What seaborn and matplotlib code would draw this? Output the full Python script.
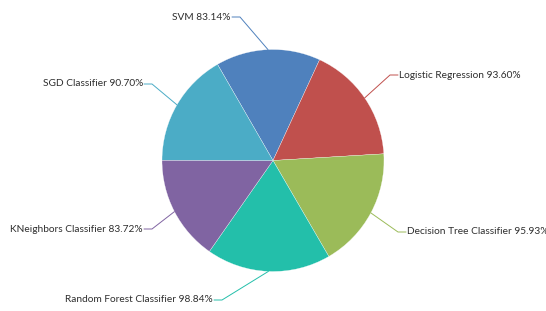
import numpy as np
import matplotlib
matplotlib.use("Agg")
import matplotlib.pyplot as plt
import seaborn as sns

# data
models = ['SVM', 'Logistic Regression', 'Decision Tree Classifier',
          'Random Forest Classifier', 'KNeighbors Classifier', 'SGD Classifier']
accuracy = [83.14, 93.60, 95.93, 98.84, 83.72, 90.70]

colors = ['#4F81BD', '#C0504D', '#9BBB59', '#23BFAA', '#8064A2', '#4BACC6']

sns.set_theme(style='white')
plt.rcParams['font.family'] = ['Lato', 'DejaVu Sans']

W, H = 546, 311
fig = plt.figure(figsize=(W / 100, H / 100), dpi=100)
ax = fig.add_axes([0, 0, 1, 1])

cx, cy, r = 273, 150.5, 111
wedges, _ = ax.pie(accuracy, colors=colors, startangle=120, counterclock=False,
                   center=(cx, cy), radius=r,
                   wedgeprops=dict(edgecolor='white', linewidth=0.2))

# label layout: bend point of the leader line and which side the text sits on
bends = [(240, 294), (390, 236), (398, 79), (222, 11), (152, 82), (152, 227)]
sides = ['left', 'right', 'right', 'left', 'left', 'left']

for w, name, val, col, (bx, by), side in zip(wedges, models, accuracy, colors, bends, sides):
    mid = np.deg2rad((w.theta1 + w.theta2) / 2)
    ex, ey = cx + r * np.cos(mid), cy + r * np.sin(mid)
    gap = 8 if side == 'right' else -8
    tx = bx + gap
    ax.plot([ex, bx, tx], [ey, by, by], color=col, lw=0.7)
    ax.text(tx + (1 if side == 'right' else -1), by, f'{name} {val:.2f}%',
            ha='left' if side == 'right' else 'right', va='center',
            fontsize=7.3, color='#2e2e2e')

ax.set_xlim(0, W)
ax.set_ylim(0, H)
ax.set_aspect('equal')
ax.axis('off')

fig.savefig('out.png', dpi=100, facecolor='white')
